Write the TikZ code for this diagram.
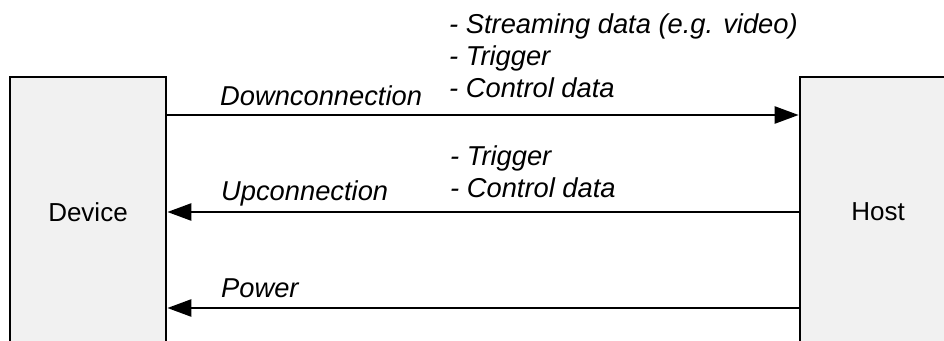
\documentclass[tikz,border=0pt]{standalone}
\usepackage{fontspec}
\setmainfont{Liberation Sans}
\usetikzlibrary{arrows.meta,calc}
\definecolor{boxfill}{RGB}{241,241,241}
\tikzset{
  unitbox/.style={draw=black, line width=2.7pt, fill=boxfill, rectangle,
    minimum width=156pt, minimum height=270pt, inner sep=0pt,
    font=\fontsize{26}{30}\selectfont},
  link/.style={line width=2.5pt, -{Triangle[length=24pt,width=17pt]}},
  lbl/.style={anchor=base west, inner sep=0pt, font=\fontsize{27.3}{30}\selectfont\itshape},
}
\begin{document}
\begin{tikzpicture}[x=1pt,y=-1pt]
\useasboundingbox (0,0) rectangle (944,340);
\clip (0,0) rectangle (944,340);
\node[unitbox] (device) at (88,212) {Device};
\node[unitbox] (host) at (878,212) {Host};
\coordinate (yd) at (0,115);
\coordinate (yu) at (0,212);
\coordinate (yp) at (0,308);
\draw[link] (yd -| device.east) -- (yd -| host.west);
\draw[link] (yu -| host.west) -- (yu -| device.east);
\draw[link] (yp -| host.west) -- (yp -| device.east);
\node[lbl] (down) at (220,105) {Downconnection};
\node[lbl] (up) at (221,200) {Upconnection};
\node[lbl] (pow) at (221,297) {Power};
\node[lbl] (d1) at (449,33) {- Streaming data (e.g. video)};
\node[lbl] (d2) at (449,65) {- Trigger};
\node[lbl] (d3) at (449,97) {- Control data};
\node[lbl] (u1) at (450,165) {- Trigger};
\node[lbl] (u2) at (450,197) {- Control data};
\end{tikzpicture}
\end{document}
